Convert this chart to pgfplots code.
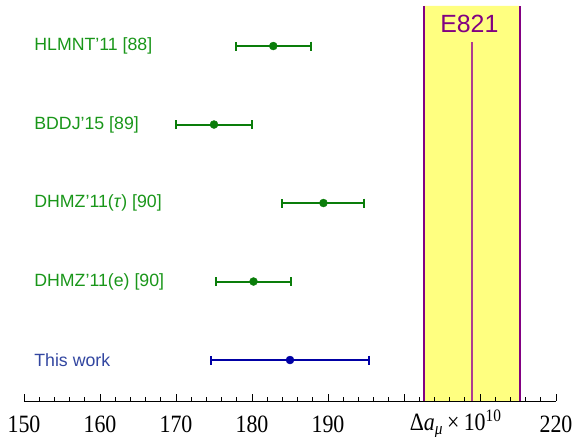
\documentclass[border=0pt]{standalone}
\usepackage{pgfplots}
\pgfplotsset{compat=1.18}
\usepackage{fontspec}
\setmainfont{Liberation Serif}
\newfontfamily\hel{Liberation Sans}
\newfontfamily\tickfont[FakeStretch=0.88]{Liberation Serif}
\usetikzlibrary{calc}
\definecolor{bandfill}{RGB}{255,255,128}
\definecolor{bandedge}{RGB}{130,0,130}
\definecolor{bandmid}{RGB}{175,60,145}
\definecolor{lgreen}{RGB}{25,150,25}
\definecolor{dgreen}{RGB}{10,125,10}
\definecolor{lblue}{RGB}{50,70,160}
\definecolor{dblue}{RGB}{0,0,165}
\begin{document}
\begin{tikzpicture}
\begin{axis}[
  name=ax,
  scale only axis, width=532bp, height=395bp,
  xmin=150, xmax=220, ymin=0.478, ymax=5.51,
  axis x line=bottom, axis y line=none,
  axis line style={-, line width=1pt},
  xtick={150,160,...,220},
  xticklabels={150,160,170,180,190,,,220},
  minor x tick num=4,
  tick align=inside,
  major tick length=7bp, minor tick length=4bp,
  tick style={black, line width=0.9pt},
  xticklabel style={font=\tickfont\fontsize{25}{27}\selectfont, inner sep=0pt, yshift=-15bp},
  /pgf/number format/assume math mode=true,
  axis on top,
  clip=false,
]
% E821 band: 208.9 +- 6.3
\addplot[fill=bandfill, draw=none] coordinates {(202.6,0.478) (215.2,0.478) (215.2,5.51) (202.6,5.51)} \closedcycle;
\addplot[bandmid, line width=1.8bp, line cap=butt] coordinates {(208.9,0.478) (208.9,5.05)};
\addplot[bandedge, line width=2bp, line cap=butt] coordinates {(215.2,0.478) (215.2,5.51)};
\addplot[bandedge, line width=2bp, line cap=butt] coordinates {(202.6,0.478) (202.6,5.51)};
\node[text=bandedge, font=\hel\fontsize{25}{27}\selectfont] at (axis cs:208.6,5.28) {E821};

% determinations
\addplot[dgreen, mark=*, mark size=4bp, only marks,
  error bars/.cd, x dir=both, x explicit,
  error bar style={line width=2bp, dgreen},
  error mark options={line width=2bp, mark size=4.5bp, dgreen, rotate=90}]
coordinates {
  (182.8,5) +- (4.9,0)
  (175.0,4) +- (5.0,0)
  (189.4,3) +- (5.4,0)
  (180.2,2) +- (4.9,0)
};
\addplot[dblue, mark=*, mark size=4bp, only marks,
  error bars/.cd, x dir=both, x explicit,
  error bar style={line width=2bp, dblue},
  error mark options={line width=2bp, mark size=4.5bp, dblue, rotate=90}]
coordinates {
  (185.0,1) +- (10.4,0)
};

\begin{scope}[font=\hel\fontsize{17.8}{20}\selectfont]
\node[anchor=west, text=lgreen] at (axis cs:150.9,5) {HLMNT’11 [88]};
\node[anchor=west, text=lgreen] at (axis cs:150.9,4) {BDDJ’15 [89]};
\node[anchor=west, text=lgreen] at (axis cs:150.9,3) {DHMZ’11(\textit{τ}) [90]};
\node[anchor=west, text=lgreen] at (axis cs:150.9,2) {DHMZ’11(e) [90]};
\node[anchor=west, text=lblue] at (axis cs:150.9,1) {This work};
\end{scope}
\node[anchor=north, font=\tickfont\fontsize{25}{27}\selectfont, inner sep=0pt] at (axis cs:206.8,0.478) [yshift=-9bp]
  {Δ\textit{a}\textsubscript{\textit{μ}}\,×\,10\textsuperscript{10}};
\end{axis}
\pgfresetboundingbox
\path[use as bounding box] ($(ax.south west)+(-24bp,-36bp)$) rectangle ($(ax.north east)+(17bp,6bp)$);
\end{tikzpicture}
\end{document}
